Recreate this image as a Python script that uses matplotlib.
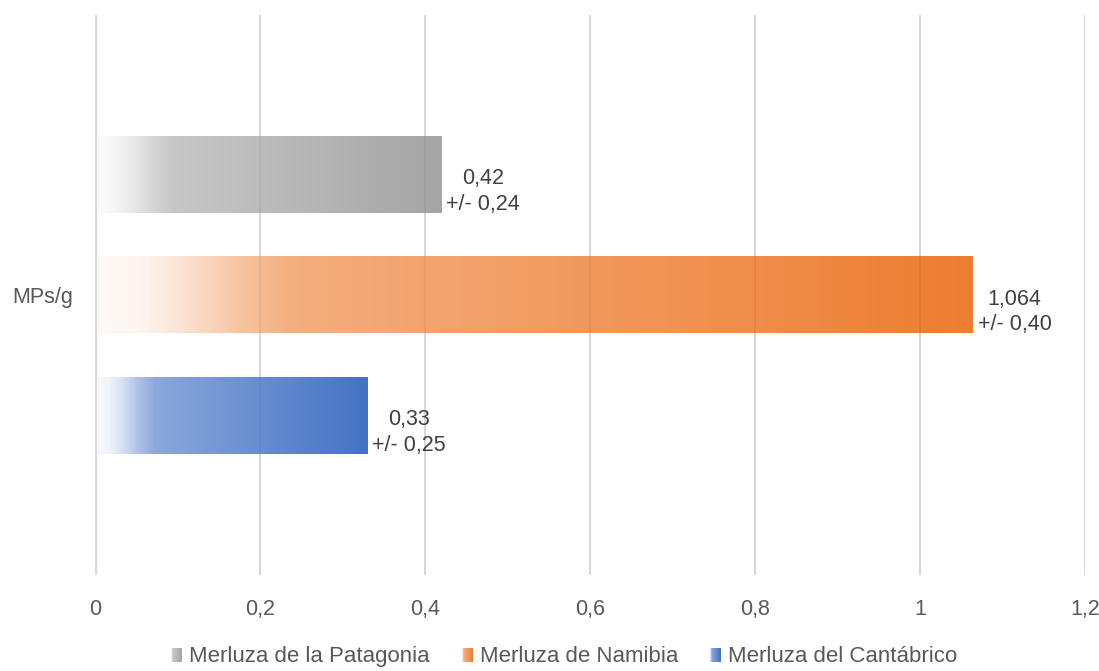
import numpy as np
import matplotlib.pyplot as plt
from matplotlib.colors import to_rgb
from matplotlib.patches import Rectangle
from matplotlib.legend_handler import HandlerBase

plt.rcParams.update({
    "font.family": ["Liberation Sans", "DejaVu Sans"],
    "font.size": 15,
})

# ---------------- DATA ----------------
category = "MPs/g"
series = ["Merluza de la Patagonia", "Merluza de Namibia", "Merluza del Cantábrico"]
means = [0.42, 1.064, 0.33]
errors = [0.24, 0.40, 0.25]
mean_labels = ["0,42", "1,064", "0,33"]
error_labels = ["0,24", "0,40", "0,25"]
colors = ["#A5A5A5", "#ED7D31", "#4472C4"]
xticks = [0, 0.2, 0.4, 0.6, 0.8, 1.0, 1.2]
xtick_labels = ["0", "0,2", "0,4", "0,6", "0,8", "1", "1,2"]

# gradient stops: (position along bar, amount of white mixed in)
stops_pos = [0.0, 0.05, 0.10, 0.16, 0.22, 1.0]
stops_tint = [0.97, 0.92, 0.78, 0.56, 0.38, 0.0]


def gradient_rgb(color, n=256):
    base = np.array(to_rgb(color))
    t = np.interp(np.linspace(0, 1, n), stops_pos, stops_tint)
    return base[None, :] * (1 - t[:, None]) + t[:, None]


class GradientHandler(HandlerBase):
    def create_artists(self, legend, orig_handle, xdescent, ydescent,
                       width, height, fontsize, trans):
        rgb = gradient_rgb(orig_handle.get_facecolor(), n=12)
        w = width / len(rgb)
        return [Rectangle((-xdescent + i * w, -ydescent), w * 1.05, height,
                          facecolor=c, edgecolor="none", transform=trans)
                for i, c in enumerate(rgb)]


# ---------------- PLOT ----------------
fig = plt.figure(figsize=(10.99, 6.71), dpi=100)
ax = fig.add_axes([95 / 1099, 96 / 671, 990 / 1099, 560 / 671])

ypos = [1, 0, -1]
bar_h = 0.64

handles = []
for y, v, c, ml, el in zip(ypos, means, colors, mean_labels, error_labels):
    img = gradient_rgb(c)[None, :, :]
    ax.imshow(img, extent=(0, v, y - bar_h / 2, y + bar_h / 2),
              aspect="auto", interpolation="bilinear", zorder=2)
    ax.annotate(f"{ml}\n+/- {el}", xy=(v, y), xytext=(5, -17),
                textcoords="offset pixels", ha="left", va="center",
                multialignment="center", color="#404040", fontsize=15.5,
                linespacing=1.3)
    handles.append(Rectangle((0, 0), 1, 1, facecolor=c))

ax.set_xlim(0, 1.2)
ax.set_ylim(-2.33, 2.33)

# vertical gridlines, faintly visible through the bars as well
for xv in xticks[1:]:
    ax.axvline(xv, color="#E3E3E3", lw=1.4, zorder=1)
    ax.axvline(xv, color=(0, 0, 0, 0.05), lw=1.4, zorder=3)
ax.axvline(0, color="#D9D9D9", lw=3, zorder=4)

for s in ax.spines.values():
    s.set_visible(False)

ax.set_xticks(xticks)
ax.set_xticklabels(xtick_labels)
ax.set_yticks([0])
ax.set_yticklabels([category])
ax.tick_params(axis="x", length=0, pad=17, colors="#595959", labelsize=15.5)
ax.tick_params(axis="y", length=0, pad=16, colors="#595959", labelsize=15.5)

fig.legend(handles, series, loc="center", bbox_to_anchor=(0.513, 0.021),
           ncol=3, frameon=False, handler_map={Rectangle: GradientHandler()},
           handlelength=0.55, handleheight=0.6, handletextpad=0.3,
           columnspacing=1.4, fontsize=16, labelcolor="#595959",
           borderpad=0.1)

plt.savefig("out.png", dpi=100)
